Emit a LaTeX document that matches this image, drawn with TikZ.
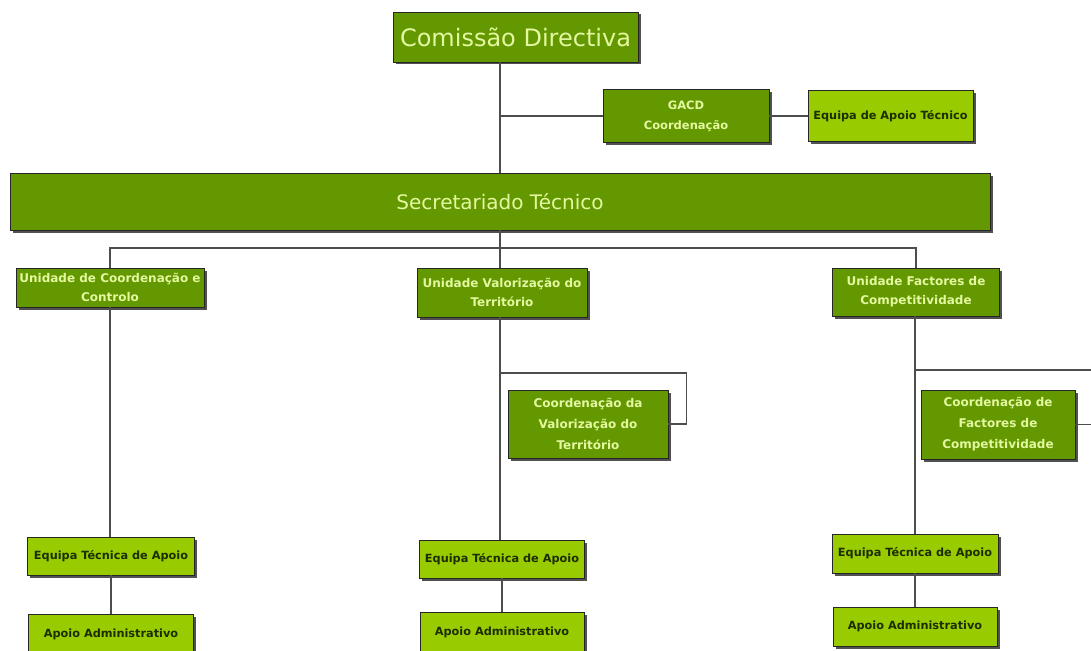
\documentclass[tikz,border=0pt]{standalone}
\usepackage{fontspec}
\setmainfont{DejaVu Sans}
\usetikzlibrary{shadows}
\definecolor{hijau}{HTML}{639800}
\definecolor{muda}{HTML}{99CC00}
\definecolor{teks}{HTML}{E4F8A0}
\definecolor{gelap}{HTML}{1C2E00}
\definecolor{garis}{HTML}{4D4D4D}
\begin{document}
\begin{tikzpicture}[x=1pt,y=-1pt,
      kotak/.style={draw=black!85,line width=0.8pt,align=center,inner sep=1pt,
        drop shadow={shadow xshift=2.5pt,shadow yshift=-2.5pt,
          fill=black!80,opacity=0.85}},
      escuro/.style={kotak,fill=hijau,text=teks,
        font=\fontsize{12}{21}\selectfont\bfseries},
      claro/.style={kotak,fill=muda,text=gelap,
        font=\fontsize{11.3}{14}\selectfont\bfseries},
      linha/.style={draw=garis,line width=1.5pt}]

    \useasboundingbox[fill=white] (0,0) rectangle (1091,650);

    % Topo
    \node[escuro,minimum width=245,minimum height=50,
      font=\fontsize{24}{28}\selectfont] (cd) at (515.5,37) {Comissão Directiva};
    \node[escuro,minimum width=166,minimum height=53,
      font=\fontsize{11.5}{20}\selectfont\bfseries] (gacd) at (686,116)
      {GACD\\Coordenação};
    \node[claro,minimum width=165,minimum height=51] (eat) at (890.5,116)
      {Equipa de Apoio Técnico};
    \node[escuro,minimum width=980,minimum height=57,
      font=\fontsize{20}{24}\selectfont] (st) at (500,201.5)
      {Secretariado Técnico};

    % Unidades
    \node[escuro,minimum width=188,minimum height=39,
      font=\fontsize{12}{19}\selectfont\bfseries] (uc) at (110,287.5)
      {Unidade de Coordenação e\\Controlo};
    \node[escuro,minimum width=170,minimum height=49,
      font=\fontsize{12}{19}\selectfont\bfseries] (uv) at (502,292.5)
      {Unidade Valorização do\\Território};
    \node[escuro,minimum width=167,minimum height=48,
      font=\fontsize{12}{19}\selectfont\bfseries] (uf) at (916,292)
      {Unidade Factores de\\Competitividade};

    % Coordenacoes
    \node[escuro,minimum width=160,minimum height=68] (cvt) at (588,424)
      {Coordenação da\\Valorização do\\Território};
    \node[escuro,minimum width=154,minimum height=69] (cfc) at (998,424.5)
      {Coordenação de\\Factores de\\Competitividade};

    % Equipas e apoio
    \node[claro,minimum width=167,minimum height=38] (eq1) at (111,556)
      {Equipa Técnica de Apoio};
    \node[claro,minimum width=165,minimum height=40] (aa1) at (111,634)
      {Apoio Administrativo};
    \node[claro,minimum width=165,minimum height=38] (eq2) at (502,559)
      {Equipa Técnica de Apoio};
    \node[claro,minimum width=164,minimum height=40] (aa2) at (502,632)
      {Apoio Administrativo};
    \node[claro,minimum width=166,minimum height=39] (eq3) at (915,553.5)
      {Equipa Técnica de Apoio};
    \node[claro,minimum width=164,minimum height=39] (aa3) at (915,626.5)
      {Apoio Administrativo};

    \coordinate (r2) at (500,373);
    \coordinate (r3) at (915,370);
    \coordinate (tepi3) at (1091,370);

    % Ligacoes
    \draw[linha] (st.north) -- (st.north |- cd.south);
    \draw[linha] (gacd.west) -- (gacd.west -| st.north);
    \draw[linha] (gacd.east) -- (eat.west);
    \draw[linha] (st.south) -- (uv.north -| st.south);
    \draw[linha] (uc.north) |- (500,248) -| (uf.north);
    \draw[linha] (uc.south) -- (eq1.north -| uc.south);
    \draw[linha] (uv.south -| r2) -- (eq2.north -| r2);
    \draw[linha] (uf.south -| r3) -- (eq3.north -| r3);
    \draw[linha] (cvt.east) -- ++(18,0) |- (r2);
    \draw[linha] (r3) -- (tepi3);
    \draw[linha] (cfc.east) -- (cfc.east -| tepi3);
    \foreach \a/\b in {eq1/aa1, eq2/aa2, eq3/aa3}
      {\draw[linha] (\a.south) -- (\b.north -| \a.south);}
  \end{tikzpicture}
\end{document}
